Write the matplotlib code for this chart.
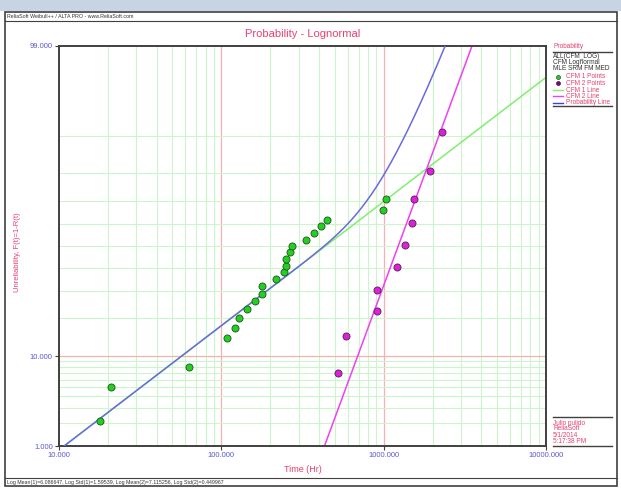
import matplotlib
matplotlib.use("Agg")
import matplotlib.pyplot as plt
from matplotlib.lines import Line2D
from matplotlib.patches import Rectangle
from statistics import NormalDist
import numpy as np

plt.rcParams['font.family'] = ['Liberation Sans', 'DejaVu Sans']

nd = NormalDist()

# CFM 1 points: time (hr), unreliability (%)
cfm1_time = [17.9, 20.8, 63.5, 109, 121, 128, 143, 161, 178, 179, 218, 244,
             249, 251, 265, 274, 334, 372, 410, 450, 990, 1039]
cfm1_unrel = [2.1, 5.0, 8.0, 14.3, 17.1, 20.0, 23.0, 26.1, 28.9, 32.0, 35.0, 37.9,
              40.9, 43.9, 47.0, 50.0, 52.8, 55.9, 59.0, 61.9, 66.3, 70.7]

# CFM 2 points
cfm2_time = [521, 589, 907, 907, 1214, 1355, 1503, 1532, 1932, 2300]
cfm2_unrel = [6.9, 14.7, 22.5, 30.3, 40.4, 50.5, 60.6, 70.8, 80.8, 90.8]

# lognormal fit parameters (from status bar)
log_mean1, log_std1 = 6.086647, 1.59539
log_mean2, log_std2 = 7.115256, 0.449967

x_ticks = [10, 100, 1000, 10000]
x_labels = ["10.000", "100.000", "1000.000", "10000.000"]
y_ticks = [1, 10, 99]
y_labels = ["1.000", "10.000", "99.000"]
y_grid = [2, 3, 4, 5, 6, 7, 8, 9, 20, 30, 40, 50, 60, 70, 80, 90]

PINK = "#e8406e"
TICKC = "#5a5ad0"
GRIDG = "#ccf5cc"
GRIDR = "#f5b0b0"


def z(p):
    return nd.inv_cdf(p / 100.0)


def lognorm_cdf(t, mu, sd):
    return np.array([nd.cdf((np.log(v) - mu) / sd) for v in t])


def fy(py):
    return 1 - py / 490


fig = plt.figure(figsize=(6.21, 4.9), dpi=100)

# window chrome
fig.patches.append(Rectangle((0, 0.978), 1, 0.022, transform=fig.transFigure,
                             facecolor="#c8d4e4", edgecolor="none", zorder=-5))
fig.patches.append(Rectangle((0.008, 0.008), 0.986, 0.968, transform=fig.transFigure,
                             facecolor="white", edgecolor="#404040", linewidth=1.2, zorder=-5))
fig.lines.append(Line2D([0.008, 0.994], [0.958, 0.958], transform=fig.transFigure,
                        color="#404040", linewidth=0.8))
fig.lines.append(Line2D([0.008, 0.994], [0.024, 0.024], transform=fig.transFigure,
                        color="#404040", linewidth=0.8))
fig.text(0.012, 0.966, "ReliaSoft Weibull++ / ALTA PRO - www.ReliaSoft.com",
         fontsize=3.8, color="#333333", va="center")
fig.text(0.012, 0.016, "Log Mean(1)=6.086647, Log Std(1)=1.59539, Log Mean(2)=7.115256, Log Std(2)=0.449967",
         fontsize=3.8, color="#333333", va="center")

ax = fig.add_axes([59 / 621, 1 - 446 / 490, (546 - 59) / 621, (446 - 45.7) / 490])
ax.set_xscale("log")
ax.set_xlim(10, 10000)
ax.set_ylim(z(1), z(99))

# grid
for d in [10, 100, 1000]:
    for k in range(2, 10):
        ax.axvline(k * d, color=GRIDG, linewidth=0.8, zorder=0)
for d in [100, 1000]:
    ax.axvline(d, color=GRIDR, linewidth=0.9, zorder=0)
for p in y_grid:
    ax.axhline(z(p), color=GRIDG, linewidth=0.8, zorder=0)
ax.axhline(z(10), color=GRIDR, linewidth=0.9, zorder=0)

# fitted lines
t = np.logspace(1, 4, 600)
f1 = lognorm_cdf(t, log_mean1, log_std1)
f2 = lognorm_cdf(t, log_mean2, log_std2)
fs = 1 - (1 - f1) * (1 - f2)
ax.plot(t, [nd.inv_cdf(min(v, 0.999999)) for v in f1], color="#80ee70", linewidth=1.1, zorder=2)
ax.plot(t, [nd.inv_cdf(min(max(v, 1e-9), 0.999999)) for v in f2], color="#f040f0", linewidth=1.1, zorder=2)
ax.plot(t, [nd.inv_cdf(min(v, 0.999999)) for v in fs], color="#6a6ae0", linewidth=1.1, zorder=3)

# points
ax.scatter(cfm1_time, [z(p) for p in cfm1_unrel], s=26, color="#22d022",
           edgecolors="#205020", linewidths=0.6, zorder=4)
ax.scatter(cfm2_time, [z(p) for p in cfm2_unrel], s=26, color="#e020d8",
           edgecolors="#502050", linewidths=0.6, zorder=4)

ax.set_xticks(x_ticks)
ax.set_xticklabels(x_labels)
ax.xaxis.set_minor_locator(matplotlib.ticker.NullLocator())
ax.set_yticks([z(p) for p in y_ticks])
ax.set_yticklabels(y_labels)
ax.tick_params(labelsize=5.5, colors="#404040", labelcolor=TICKC, length=3, width=0.8, pad=1.5)
for s in ax.spines.values():
    s.set_color("#404040")
    s.set_linewidth(1.4)

fig.text(303 / 621, fy(34), "Probability - Lognormal", color=PINK, fontsize=8,
         ha="center", va="center")
fig.text(303 / 621, fy(469), "Time (Hr)", color=PINK, fontsize=6.5, ha="center", va="center")
fig.text(18 / 621, fy(252), "Unreliability, F(t)=1-R(t)", color=PINK, fontsize=5.5,
         rotation=90, ha="center", va="center")

# legend on the right
lx = 553 / 621

fig.text(lx, fy(47), "Probability", fontsize=4.7, color=PINK, va="center")
fig.lines.append(Line2D([lx, 612 / 621], [fy(52), fy(52)], transform=fig.transFigure,
                        color="#404040", linewidth=1))
for i, s in enumerate(["ALL(CFM_LOG)", "CFM Lognormal", "MLE SRM FM MED"]):
    fig.text(lx, fy(57 + i * 6), s, fontsize=4.7, color="#333333", va="center")
items = [("pt", "#22d022", "CFM 1 Points"), ("pt", "#800080", "CFM 2 Points"),
         ("ln", "#80ee70", "CFM 1 Line"), ("ln", "#f040f0", "CFM 2 Line"),
         ("ln", "#4040e0", "Probability Line")]
for i, (kind, c, s) in enumerate(items):
    yy = fy(77 + i * 6.5)
    if kind == "pt":
        fig.lines.append(Line2D([558 / 621], [yy], transform=fig.transFigure, marker="o",
                                markersize=3, color=c, markeredgecolor="#303030",
                                markeredgewidth=0.4, linestyle="none"))
    else:
        fig.lines.append(Line2D([553 / 621, 563 / 621], [yy, yy], transform=fig.transFigure,
                                color=c, linewidth=1))
    fig.text(566 / 621, yy, s, fontsize=4.7, color=PINK, va="center")
fig.lines.append(Line2D([lx, 612 / 621], [fy(106), fy(106)], transform=fig.transFigure,
                        color="#404040", linewidth=1))

fig.lines.append(Line2D([lx, 612 / 621], [fy(417), fy(417)], transform=fig.transFigure,
                        color="#404040", linewidth=1))
for i, s in enumerate(["Julio pulido", "ReliaSoft", "5/1/2014", "5:17:38 PM"]):
    fig.text(lx, fy(423 + i * 6), s, fontsize=4.7, color=PINK, va="center")
fig.lines.append(Line2D([lx, 612 / 621], [fy(446), fy(446)], transform=fig.transFigure,
                        color="#404040", linewidth=1))

fig.savefig("out.png", dpi=100)
